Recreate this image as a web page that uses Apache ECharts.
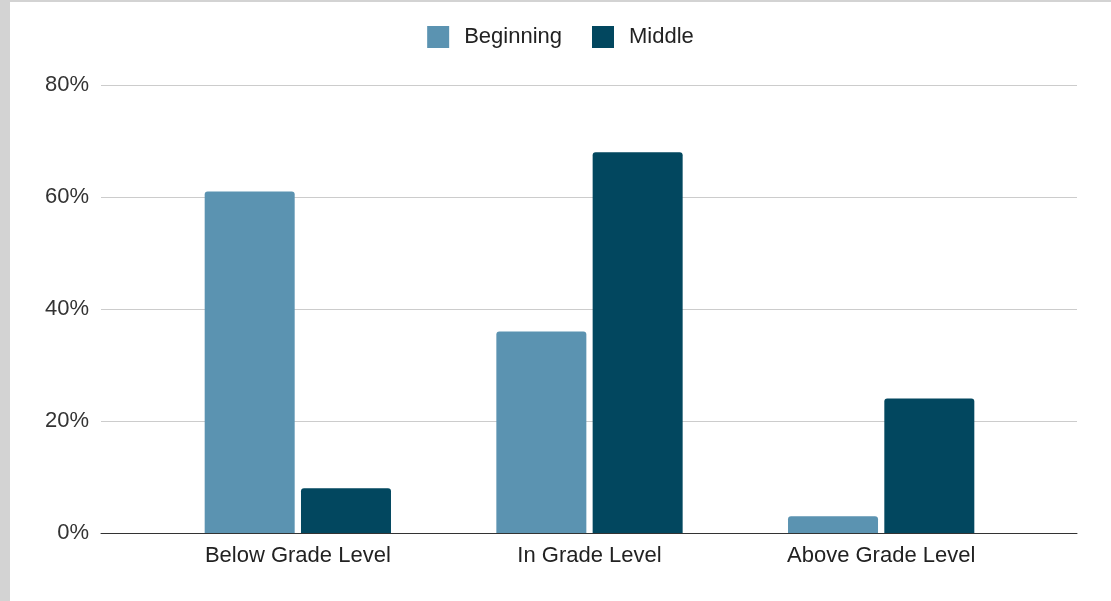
<!DOCTYPE html>
<html>
<head>
<meta charset="utf-8">
<script src="https://cdn.jsdelivr.net/npm/echarts@6/dist/echarts.min.js"></script>
<style>
html,body{margin:0;padding:0;width:1111px;height:601px;background:#d3d3d3;overflow:hidden;}
#c{position:absolute;left:10px;top:2px;width:1101px;height:599px;background:#fff;}
</style>
</head>
<body>
<div id="c"></div>
<script>
const categories = ['Below Grade Level', 'In Grade Level', 'Above Grade Level'];
const beginning = [61, 36, 3];
const middle = [8, 68, 24];
const seriesNames = ['Beginning', 'Middle'];
const yTicks = [0, 20, 40, 60, 80];

const font = 'Liberation Sans, Arial, sans-serif';
const chart = echarts.init(document.getElementById('c'), null, {renderer: 'canvas'});
chart.setOption({
  animation: false,
  textStyle: {fontFamily: font},
  legend: {
    top: 19, left: 'center',
    itemWidth: 22, itemHeight: 22, itemGap: 30,
    icon: 'rect',
    textStyle: {fontSize: 22, color: '#222', padding: [0, 0, 0, 10]},
    data: seriesNames
  },
  grid: [
    {left: 91, right: 34, top: 83, bottom: 68},
    {left: 142, right: 84, top: 83, bottom: 68}
  ],
  xAxis: [
    {gridIndex: 0, type: 'value', min: 0, max: 1, axisLine: {show: true, onZero: false, lineStyle: {color: '#333', width: 1}},
     axisTick: {show: false}, axisLabel: {show: false}, splitLine: {show: false}},
    {gridIndex: 1, type: 'category', data: categories, axisLine: {show: false}, axisTick: {show: false},
     axisLabel: {fontSize: 22, color: '#222', margin: 12}}
  ],
  yAxis: [
    {gridIndex: 0, type: 'value', min: yTicks[0], max: yTicks[yTicks.length - 1], interval: 20,
     axisLine: {show: false}, axisTick: {show: false},
     axisLabel: {fontSize: 22, color: '#333', margin: 12, formatter: v => v + '%'},
     splitLine: {lineStyle: {color: '#ccc', width: 1}}},
    {gridIndex: 1, type: 'value', min: yTicks[0], max: yTicks[yTicks.length - 1], show: false, splitLine: {show: false}}
  ],
  series: [
    {name: seriesNames[0], type: 'bar', xAxisIndex: 1, yAxisIndex: 1, data: beginning, barWidth: 90, barGap: '7%',
     itemStyle: {color: '#5b93b1', borderRadius: [3, 3, 0, 0]}},
    {name: seriesNames[1], type: 'bar', xAxisIndex: 1, yAxisIndex: 1, data: middle, barWidth: 90, barGap: '7%',
     itemStyle: {color: '#02475f', borderRadius: [3, 3, 0, 0]}}
  ]
});
</script>
</body>
</html>
